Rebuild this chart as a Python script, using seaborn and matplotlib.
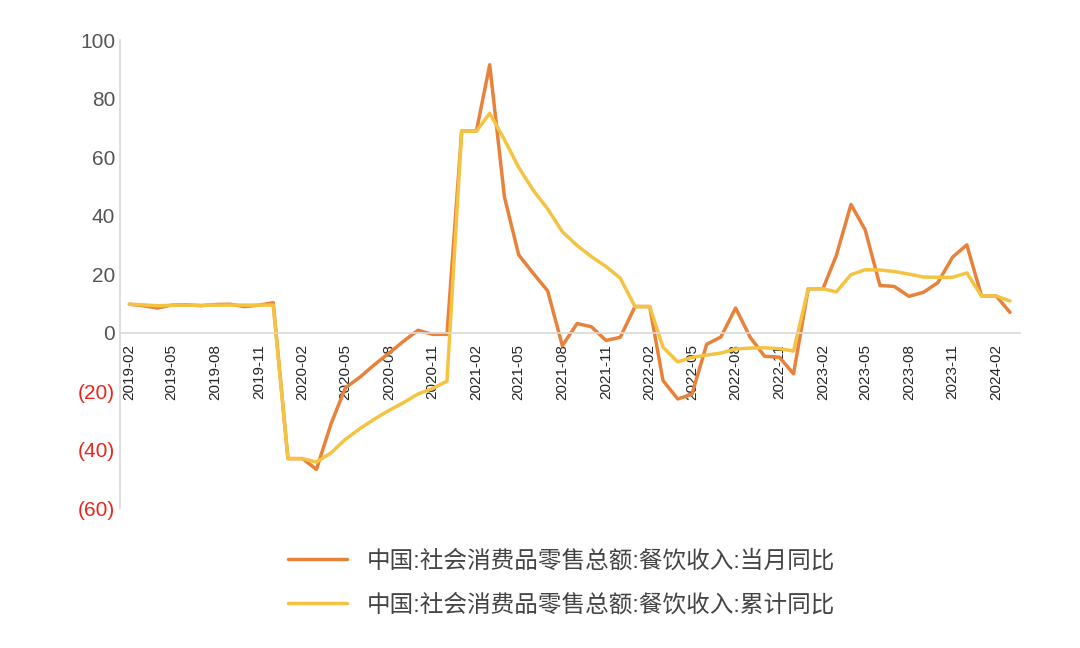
import matplotlib
matplotlib.use("Agg")
import matplotlib.pyplot as plt
import seaborn as sns
import pandas as pd
import numpy as np

sns.set_theme(style="white")
plt.rcParams['font.family'] = ['Liberation Sans', 'Noto Sans CJK SC', 'DejaVu Sans']

months = pd.date_range("2019-02-01", "2024-03-01", freq="MS")
monthly = [9.7, 9.2, 8.4, 9.4, 9.5, 9.2, 9.6, 9.7, 8.9, 9.4, 10.2,
           -43.1, -43.1, -46.8, -31.1, -18.9, -15.2, -11.0, -7.0, -2.9, 0.8, -0.6, -0.6,
           68.9, 68.9, 91.6, 46.4, 26.6, 20.2, 14.3, -4.5, 3.1, 2.0, -2.7, -1.6,
           8.9, 8.9, -16.4, -22.7, -21.1, -4.0, -1.5, 8.4, -1.7, -8.1, -8.4, -14.1,
           15.0, 15.0, 26.3, 43.8, 35.1, 16.1, 15.8, 12.4, 13.8, 17.1, 25.8, 30.0,
           12.5, 12.5, 6.9]
cumulative = [9.7, 9.5, 9.2, 9.3, 9.4, 9.3, 9.4, 9.4, 9.4, 9.4, 9.4,
              -43.1, -43.1, -44.3, -41.1, -36.5, -32.8, -29.6, -26.6, -23.9, -21.0, -19.1, -16.6,
              68.9, 68.9, 75.0, 66.0, 56.5, 48.6, 42.3, 34.5, 29.8, 26.0, 22.6, 18.6,
              8.9, 8.9, -5.0, -10.0, -8.5, -7.7, -7.0, -5.6, -5.3, -5.2, -5.5, -6.3,
              15.0, 15.0, 13.9, 19.8, 21.5, 21.4, 20.9, 20.0, 19.0, 18.9, 18.9, 20.4,
              12.5, 12.5, 10.8]
label_m = "中国:社会消费品零售总额:餐饮收入:当月同比"
label_c = "中国:社会消费品零售总额:餐饮收入:累计同比"

df = pd.DataFrame({"date": months, label_m: monthly, label_c: cumulative})
long = df.melt("date", var_name="series", value_name="value")

fig = plt.figure(figsize=(10.8, 6.48), dpi=100)
ax = fig.add_axes([0.111, 0.216, 0.833, 0.722])
sns.lineplot(data=long, x="date", y="value", hue="series",
             palette=["#E8823A", "#F5C342"], linewidth=2.5, ax=ax, legend=True)

ax.set_ylim(-60, 100)
ax.set_xlim(months[0] - pd.Timedelta(days=20), months[-1] + pd.Timedelta(days=20))
yt = list(range(-60, 101, 20))
ax.set_yticks(yt)
ax.set_yticklabels([f"({abs(v)})" if v < 0 else str(v) for v in yt], fontsize=15)
for t, v in zip(ax.get_yticklabels(), yt):
    t.set_color("#E8271C" if v < 0 else "#555555")
xt = pd.date_range("2019-02-01", "2024-02-01", freq="3MS")
ax.set_xticks(xt)
ax.set_xticklabels([d.strftime("%Y-%m") for d in xt], fontsize=14, color="#555555")
ax.tick_params(axis='x', labelrotation=90, length=4, color="#D9D9D9", pad=4)
for t in ax.get_xticklabels():
    t.set_verticalalignment('top')
    t.set_horizontalalignment('center')
ax.spines['bottom'].set_position(('data', 0))
for s in ['top', 'right']:
    ax.spines[s].set_visible(False)
ax.spines['left'].set_color("#D9D9D9")
ax.spines['bottom'].set_color("#D9D9D9")
ax.tick_params(axis='y', length=0)
ax.set_xlabel("")
ax.set_ylabel("")
handles, labels = ax.get_legend_handles_labels()
ax.get_legend().remove()
fig.legend(handles, labels, loc="center", bbox_to_anchor=(0.52, 0.1), frameon=False,
           fontsize=17, handlelength=2.5, labelspacing=0.9, labelcolor="#444444")
fig.savefig("out.png", dpi=100)
